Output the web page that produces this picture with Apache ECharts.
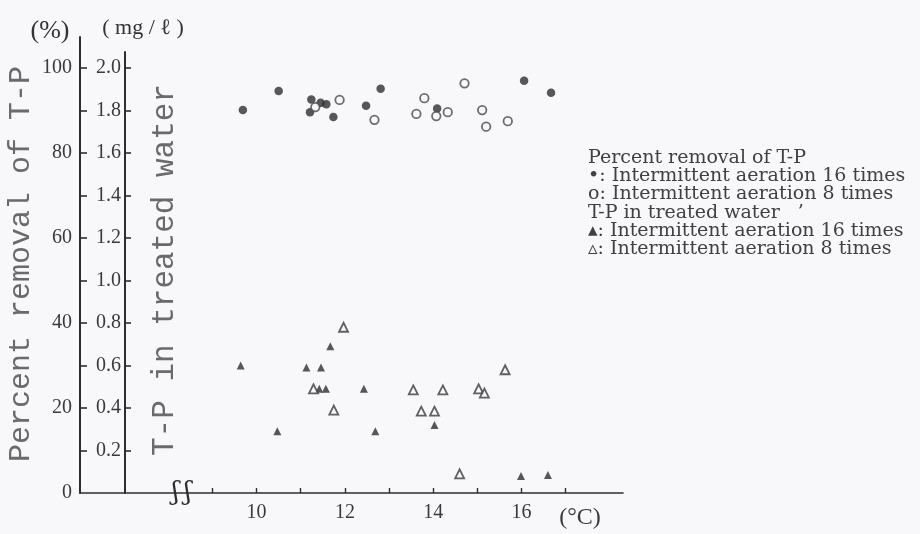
<!DOCTYPE html>
<html>
<head>
<meta charset="utf-8">
<script src="https://cdn.jsdelivr.net/npm/echarts@6/dist/echarts.min.js"></script>
<style>
  html, body { margin: 0; padding: 0; background: #f8f8fa; }
  #chart { width: 920px; height: 534px; }
</style>
</head>
<body>
<div id="chart"></div>
<script>
// Water temperature (°C) vs. percent removal of T-P (%)
const removal16Temp = [9.69, 10.50, 11.24, 11.21, 11.45, 11.58, 11.74, 12.48, 12.81, 14.09, 16.06, 16.67];
const removal16Pct  = [90.1, 94.6, 92.6, 89.6, 91.8, 91.5, 88.5, 91.1, 95.1, 90.5, 97.0, 94.2];
const removal8Temp  = [11.33, 11.88, 12.67, 13.62, 13.80, 14.07, 14.33, 14.71, 15.11, 15.20, 15.69];
const removal8Pct   = [90.8, 92.5, 87.8, 89.2, 92.9, 88.7, 89.6, 96.4, 90.1, 86.2, 87.5];

// Water temperature (°C) vs. T-P in treated water (mg/ℓ)
const tp16Temp = [9.64, 10.47, 11.13, 11.46, 11.67, 11.42, 11.57, 12.43, 12.69, 14.03, 15.99, 16.60];
const tp16Conc = [0.60, 0.29, 0.59, 0.59, 0.69, 0.49, 0.49, 0.49, 0.29, 0.32, 0.08, 0.085];
const tp8Temp  = [11.29, 11.75, 11.97, 13.55, 13.73, 14.03, 14.22, 15.03, 15.16, 15.63, 14.60];
const tp8Conc  = [0.49, 0.39, 0.78, 0.485, 0.385, 0.385, 0.485, 0.49, 0.47, 0.58, 0.09];

// Axis ticks and labels
const tempTicks   = [9, 10, 11, 12, 13, 14, 15, 16, 17];
const tempLabels  = [10, 12, 14, 16];
const pctTicks    = [10, 20, 30, 40, 50, 60, 70, 80, 90, 100];
const pctLabels   = [0, 20, 40, 60, 80, 100];
const concTicks   = [0.2, 0.4, 0.6, 0.8, 1.0, 1.2, 1.4, 1.6, 1.8, 2.0];

const zip = (xs, ys) => xs.map((x, i) => [x, ys[i]]);

const INK = '#2e2e30';
const BG = '#f8f8fa';
const NUM_FONT = { fontFamily: 'Liberation Serif', fontSize: 20, color: '#3a3a3c' };

const chart = echarts.init(document.getElementById('chart'));

const option = {
  backgroundColor: BG,
  animation: false,
  grid: [
    { left: 80, right: 297, top: 37, bottom: 41 },
    { left: 125, right: 297, top: 52, bottom: 41 }
  ],
  xAxis: [
    {
      gridIndex: 0, type: 'value', min: 6, max: 18.3,
      splitLine: { show: false },
      axisLine: { lineStyle: { color: INK, width: 1.6 } },
      axisTick: { show: true, inside: true, length: 5, customValues: tempTicks, lineStyle: { color: INK, width: 1.4 } },
      axisLabel: { customValues: tempLabels, margin: 10, ...NUM_FONT }
    },
    {
      gridIndex: 1, type: 'value', min: 7.02, max: 18.3, show: false
    }
  ],
  yAxis: [
    {
      gridIndex: 0, type: 'value', min: 0, max: 107.3,
      splitLine: { show: false },
      axisLine: { show: true, lineStyle: { color: INK, width: 2 } },
      axisTick: { show: true, inside: true, length: 7, customValues: pctTicks, lineStyle: { color: INK, width: 1.6 } },
      axisLabel: { customValues: pctLabels, margin: 8, ...NUM_FONT }
    },
    {
      gridIndex: 1, type: 'value', min: 0, max: 2.075,
      splitLine: { show: false },
      axisLine: { show: true, lineStyle: { color: INK, width: 2 } },
      axisTick: { show: true, inside: true, length: 6, customValues: concTicks, lineStyle: { color: INK, width: 1.6 } },
      axisLabel: { customValues: concTicks, margin: 4, formatter: v => v.toFixed(1), ...NUM_FONT }
    }
  ],
  series: [
    {
      name: 'Percent removal of T-P: Intermittent aeration 16 times',
      type: 'scatter', xAxisIndex: 0, yAxisIndex: 0,
      symbol: 'circle', symbolSize: 8.5,
      itemStyle: { color: INK },
      data: zip(removal16Temp, removal16Pct)
    },
    {
      name: 'Percent removal of T-P: Intermittent aeration 8 times',
      type: 'scatter', xAxisIndex: 0, yAxisIndex: 0,
      symbol: 'circle', symbolSize: 8.5,
      itemStyle: { color: BG, borderColor: '#4a4a4c', borderWidth: 1.8 },
      data: zip(removal8Temp, removal8Pct)
    },
    {
      name: 'T-P in treated water: Intermittent aeration 16 times',
      type: 'scatter', xAxisIndex: 1, yAxisIndex: 1,
      symbol: 'triangle', symbolSize: 8,
      itemStyle: { color: INK },
      data: zip(tp16Temp, tp16Conc)
    },
    {
      name: 'T-P in treated water: Intermittent aeration 8 times',
      type: 'scatter', xAxisIndex: 1, yAxisIndex: 1,
      symbol: 'triangle', symbolSize: 9,
      itemStyle: { color: BG, borderColor: '#3a3a3c', borderWidth: 1.8 },
      data: zip(tp8Temp, tp8Conc)
    }
  ]
};

chart.setOption(option);

// Titles, units, key and the axis break mark
const breakX = chart.convertToPixel({ xAxisIndex: 0 }, 8.3);
const baseY = chart.convertToPixel({ yAxisIndex: 0 }, 0);

const titleStyle = { fontFamily: 'Liberation Mono', fontSize: 30, fill: '#6a6a6c', align: 'center', verticalAlign: 'middle' };
const keyStyle = { fontFamily: 'DejaVu Serif', fontSize: 19, fill: '#404042', align: 'left', verticalAlign: 'middle' };

const keyLines = [
  'Percent removal of T-P',
  '\u2022: Intermittent aeration 16 times',
  'o: Intermittent aeration 8 times',
  'T-P in treated water   \u2019',
  '\u25B4: Intermittent aeration 16 times',
  '\u25B5: Intermittent aeration 8 times'
];

chart.setOption({
  graphic: [
    { type: 'text', x: 21, y: 264, rotation: Math.PI / 2, style: { text: 'Percent removal of T-P', ...titleStyle } },
    { type: 'text', x: 165, y: 270, rotation: Math.PI / 2, style: { text: 'T-P in treated water', ...titleStyle, fontSize: 31 } },
    { type: 'text', x: 50, y: 31, style: { text: '(%)', fontFamily: 'Liberation Serif', fontSize: 26, fill: '#333', align: 'center', verticalAlign: 'middle' } },
    { type: 'text', x: 143, y: 28, style: { text: '( mg / \u2113 )', fontFamily: 'Liberation Serif', fontSize: 22, fill: '#333', align: 'center', verticalAlign: 'middle' } },
    { type: 'text', x: 580, y: 518, style: { text: '(\u00B0C)', fontFamily: 'Liberation Serif', fontSize: 24, fill: '#3a3a3c', align: 'center', verticalAlign: 'middle' } },
    { type: 'rect', shape: { x: breakX - 8, y: baseY - 4, width: 16, height: 8 }, style: { fill: BG } },
    { type: 'text', x: breakX, y: baseY, style: { text: '\u0283\u2009\u0283', fontFamily: 'DejaVu Serif', fontSize: 26, fill: INK, align: 'center', verticalAlign: 'middle' } }
  ].concat(keyLines.map((t, i) => ({
    type: 'text', x: 588, y: 158 + i * 18.2, style: { text: t, ...keyStyle }
  })))
});
</script>
</body>
</html>
